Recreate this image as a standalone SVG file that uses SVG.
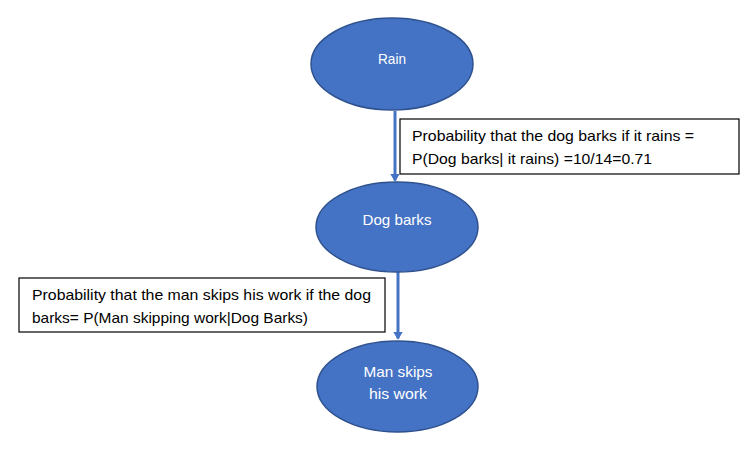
<svg xmlns="http://www.w3.org/2000/svg" width="756" height="450" viewBox="0 0 756 450">
<style>
.node{fill:#4472C4;stroke:#2F528F;stroke-width:1.5}
.nt{font-family:"Liberation Sans",Arial,sans-serif;font-size:15px;fill:#FFFFFF;text-anchor:middle}
.box{fill:#FFFFFF;stroke:#000000;stroke-width:1.2}
.bt{font-family:"Liberation Sans",Arial,sans-serif;font-size:15px;fill:#000000}
.edge{stroke:#4472C4;stroke-width:3;fill:none}
</style>
<defs>
<marker id="ah" markerWidth="4" markerHeight="4" refX="2.2" refY="2" orient="auto" markerUnits="strokeWidth">
<path d="M0,0.4 L2.6,2 L0,3.6 Z" fill="#4472C4"/>
</marker>
</defs>
<rect width="756" height="450" fill="#FFFFFF"/>
<g id="connectors">
<line class="edge" x1="395" y1="111" x2="395" y2="180.5" marker-end="url(#ah)"/>
<line class="edge" x1="398" y1="272" x2="398" y2="338.5" marker-end="url(#ah)"/>
</g>
<g id="rain">
<ellipse class="node" cx="392" cy="64" rx="81" ry="46"/>
<text class="nt" x="392" y="64" textLength="28" lengthAdjust="spacingAndGlyphs">Rain</text>
</g>
<g id="dog-barks">
<ellipse class="node" cx="397" cy="227" rx="81" ry="45"/>
<text class="nt" x="397" y="225" textLength="69" lengthAdjust="spacingAndGlyphs">Dog barks</text>
</g>
<g id="man-skips">
<ellipse class="node" cx="397.5" cy="386.5" rx="80.5" ry="45.5"/>
<text class="nt" x="398" y="377" textLength="69" lengthAdjust="spacingAndGlyphs">Man skips</text>
<text class="nt" x="398" y="399" textLength="58" lengthAdjust="spacingAndGlyphs">his work</text>
</g>
<g id="label-1">
<rect class="box" x="400" y="119" width="339" height="55"/>
<text class="bt" x="412" y="141" textLength="282" lengthAdjust="spacingAndGlyphs">Probability that the dog barks if it rains =</text>
<text class="bt" x="412" y="164" textLength="240" lengthAdjust="spacingAndGlyphs">P(Dog barks| it rains) =10/14=0.71</text>
</g>
<g id="label-2">
<rect class="box" x="19" y="278" width="366" height="54"/>
<text class="bt" x="32" y="300" textLength="339" lengthAdjust="spacingAndGlyphs">Probability that the man skips his work if the dog</text>
<text class="bt" x="32" y="323" textLength="276" lengthAdjust="spacingAndGlyphs">barks= P(Man skipping work|Dog Barks)</text>
</g>
</svg>
